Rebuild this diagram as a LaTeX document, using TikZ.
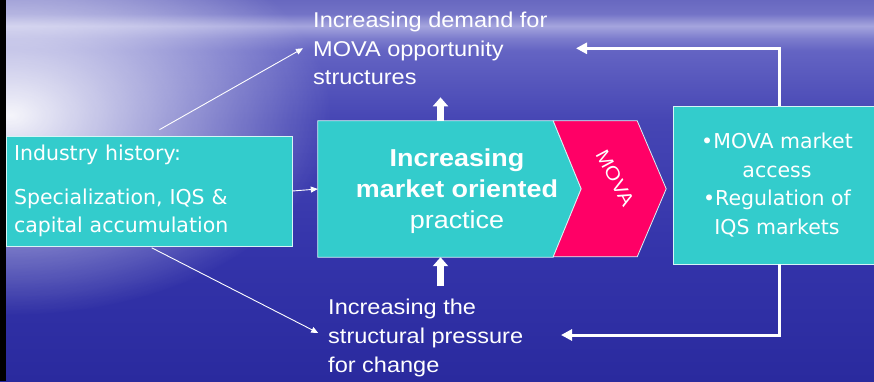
\documentclass[tikz,border=0pt]{standalone}
\usepackage{fontspec}
\setmainfont{Liberation Sans}[FakeStretch=1.1]
\newfontfamily\boxfont{DejaVu Sans}
\usetikzlibrary{arrows.meta}
\usetikzlibrary{fadings}

\definecolor{boxcyan}{RGB}{51,204,204}
\definecolor{movapink}{RGB}{255,0,102}
\definecolor{seadeep}{RGB}{42,42,158}
\definecolor{seamid}{RGB}{52,52,170}
\definecolor{sealow}{RGB}{70,70,180}
\definecolor{seahigh}{RGB}{100,100,195}
\definecolor{seaedge}{RGB}{125,125,205}
\definecolor{seahaze}{RGB}{165,165,222}
\definecolor{seacloud}{RGB}{115,115,198}
\definecolor{seasky}{RGB}{104,104,192}
\pgfdeclareverticalshading{seaback}{100bp}{color(0bp)=(seadeep); color(25bp)=(seadeep);
  color(42.2bp)=(seamid); color(59.3bp)=(sealow); color(68.4bp)=(seahigh); color(70bp)=(seaedge);
  color(71.6bp)=(seahaze); color(73.2bp)=(seacloud); color(75bp)=(seasky); color(100bp)=(seasky)}
\tikzfading[name=glow fade, inner color=transparent!0, outer color=transparent!100]

\tikzstyle{stage box}=[fill=boxcyan, draw=white!80!boxcyan, line width=0.8pt, text=white, inner sep=0]
\tikzstyle{stage shape}=[draw=white!80!boxcyan, line width=0.8pt]
\tikzstyle{phantom box}=[minimum width=235, minimum height=136, inner sep=0]
\tikzstyle{flow text}=[text=white, align=left, inner sep=0, font=\fontsize{21.4}{28.7}\selectfont]
\tikzstyle{thin arrow}=[white, line width=0.9pt, -{Triangle[length=7pt, width=6pt]}]
\tikzstyle{push arrow}=[white, line width=7pt, -{Triangle[length=9pt, width=15pt]}]
\tikzstyle{feedback arrow}=[white, line width=3pt, -{Triangle[length=11pt, width=11pt]}]

\begin{document}
\begin{tikzpicture}[x=1pt, y=-1pt]
      \useasboundingbox (0,0) rectangle (874,381);
      % sea and sky behind everything
      \shade[shading=seaback] (0,0) rectangle (874,381);
      \fill[white, path fading=glow fade, fill opacity=0.95] (10,115) ellipse [x radius=320, y radius=200];
      \fill[black] (0,0) rectangle (6,381);

      \node[stage box, minimum width=286, minimum height=110, text width=270, align=left,
        font=\boxfont\fontsize{20.5}{28.7}\selectfont] (history) at (149,191)
        {Industry history:\\[15pt]Specialization, IQS \&\\capital accumulation};

      \node[phantom box] (practice) at (435.5,189) {};
      \filldraw[stage shape, fill=boxcyan] (practice.north west) -- (practice.north east)
        -- ++(28,68) -- (practice.south east) -- (practice.south west) -- cycle;
      \filldraw[stage shape, fill=movapink] (practice.north east) -- ++(84,0) -- ++(29,68)
        -- ++(-29,68) -- ++(-84,0) -- ++(28,-68) -- cycle;
      \node[text=white, align=center, font=\fontsize{24.5}{31}\selectfont] at (457,191)
        {\textbf{Increasing}\\\textbf{market oriented}\\practice};
      \node[text=white, rotate=-62, font=\fontsize{19}{19}\selectfont] (mova) at (615,178) {MOVA};

      \node[stage box, minimum width=208, minimum height=158, align=center,
        font=\boxfont\fontsize{20.5}{28.5}\selectfont] (access) at (777,185)
        {•MOVA market\\access\\•Regulation of\\IQS markets};

      \node[flow text, anchor=west] (demand) at (313,48.6) {Increasing demand for\\MOVA opportunity\\structures};
      \node[flow text, anchor=west] (pressure) at (328,338) {Increasing the\\structural pressure\\for change};

      \coordinate (demand tip) at (576,48.3);
      \coordinate (pressure tip) at (561,335);

      \draw[thin arrow, shorten <=12pt, shorten >=11.5pt] (history.north) -- ([yshift=6pt]demand.west);
      \draw[thin arrow] (history.east) -- (practice.west);
      \draw[thin arrow, shorten <=3pt, shorten >=11pt] (history.south) -- (pressure.west);

      \draw[push arrow, shorten >=12pt] ([xshift=5pt]practice.north) -- ([xshift=5pt]practice.north |- demand.south);
      \draw[push arrow, shorten <=13pt] ([xshift=5pt]practice.south |- pressure.north) -- ([xshift=5pt]practice.south);

      \draw[feedback arrow] ([xshift=2pt]access.north) |- (demand tip);
      \draw[feedback arrow] ([xshift=2pt]access.south) |- (pressure tip);
    \end{tikzpicture}
\end{document}
